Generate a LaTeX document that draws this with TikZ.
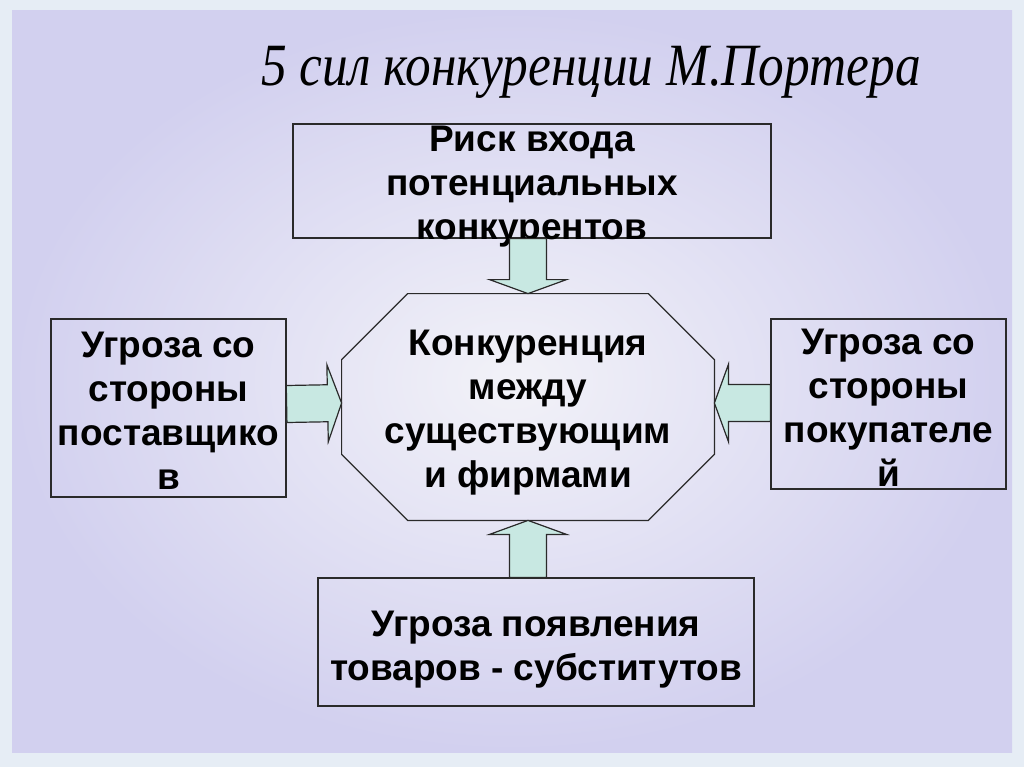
\documentclass[tikz,border=0pt]{standalone}
\usepackage{fontspec}
\setmainfont{Liberation Serif}
\setsansfont{Liberation Sans}
\usetikzlibrary{calc}
\usetikzlibrary{positioning}

\definecolor{bgedge}{HTML}{E6EDF5}
\definecolor{bglav}{HTML}{D2D0EF}
\definecolor{bgmid}{HTML}{F2F2F8}
\definecolor{flowfill}{HTML}{C8E8E2}
\definecolor{inkline}{HTML}{2A2A2A}

% fat block arrow between two points
\newcommand{\fatarrow}[2]{%
  \draw[flow] let \p1=(#1), \p2=(#2), \n1={atan2(\y2-\y1,\x2-\x1)}, \n2={veclen(\x2-\x1,\y2-\y1)} in
    [shift={(\p1)}, rotate=\n1]
    (0pt,-9.25pt) -- ({\n2-7pt},-9.25pt) -- ({\n2-7pt},-19.25pt) -- ({\n2},0pt)
    -- ({\n2-7pt},19.25pt) -- ({\n2-7pt},9.25pt) -- (0pt,9.25pt) -- cycle;}

\begin{document}
\begin{tikzpicture}[x=0.5pt,y=-0.5pt,
	  frame/.style={rectangle,draw=inkline,line width=0.6pt,inner sep=0pt},
	  force text/.style={align=center,inner sep=0pt,
	    font=\sffamily\bfseries\fontsize{18.5}{22}\selectfont},
	  flow/.style={fill=flowfill,draw=inkline,line width=0.6pt,line join=miter}]

	 % background
	 \fill[bgedge] (0,0) rectangle (1024,767);
	 \shade[inner color=bgmid,outer color=bglav] (12,10) rectangle (1012,752);

	 \node[anchor=base,transform shape,xscale=0.855,font=\itshape\fontsize{30}{34}\selectfont] (title) at (591,85) {5 сил конкуренции М.Портера};

	 \node[frame,minimum width=239pt,minimum height=57pt] (risk) at (532,181) {};
	 \node[frame,minimum width=117.5pt,minimum height=89pt] (supp) at (168.5,408) {};
	 \node[frame,minimum width=117.5pt,minimum height=85pt] (buy) at (888.5,404) {};
	 \node[frame,minimum width=218pt,minimum height=64pt] (subst) at (536,642) {};
	 \node[inner sep=0pt,minimum width=186pt,minimum height=113pt] (core) at (528,407) {};

	 \node[force text] (risk-txt) at ($ (risk) + (0,5.5) $) {Риск входа\\потенциальных\\конкурентов};
	 \node[force text] (supp-txt) at ($ (supp) + (0,3) $) {Угроза со\\стороны\\поставщико\\в};
	 \node[force text] (buy-txt) at ($ (buy) + (0,3.5) $) {Угроза со\\стороны\\покупателе\\й};
	 \node[force text] (subst-txt) at ($ (subst) + (0,7.5) $) {Угроза появления\\товаров - субститутов};
	 \node[force text] (core-txt) at ($ (core) + (0,6) $) {Конкуренция\\между\\существующим\\и фирмами};

	 \draw[draw=inkline,line width=0.6pt]
	    ($ (core.north west) + (66,0) $) -- ($ (core.north east) + (-66,0) $)
	    -- ($ (core.north east) + (0,66) $) -- ($ (core.south east) + (0,-66) $)
	    -- ($ (core.south east) + (-66,0) $) -- ($ (core.south west) + (66,0) $)
	    -- ($ (core.south west) + (0,-66) $) -- ($ (core.north west) + (0,66) $) -- cycle;

	 \fatarrow{risk.south -| core.north}{core.north}
	 \fatarrow{$ (supp.east) + (0,-4) $}{$ (core.west) + (0,-4) $}
	 \fatarrow{$ (buy.west) + (0,-1) $}{$ (core.east) + (0,-4) $}
	 \fatarrow{subst.north -| core.south}{core.south}
	\end{tikzpicture}
\end{document}
